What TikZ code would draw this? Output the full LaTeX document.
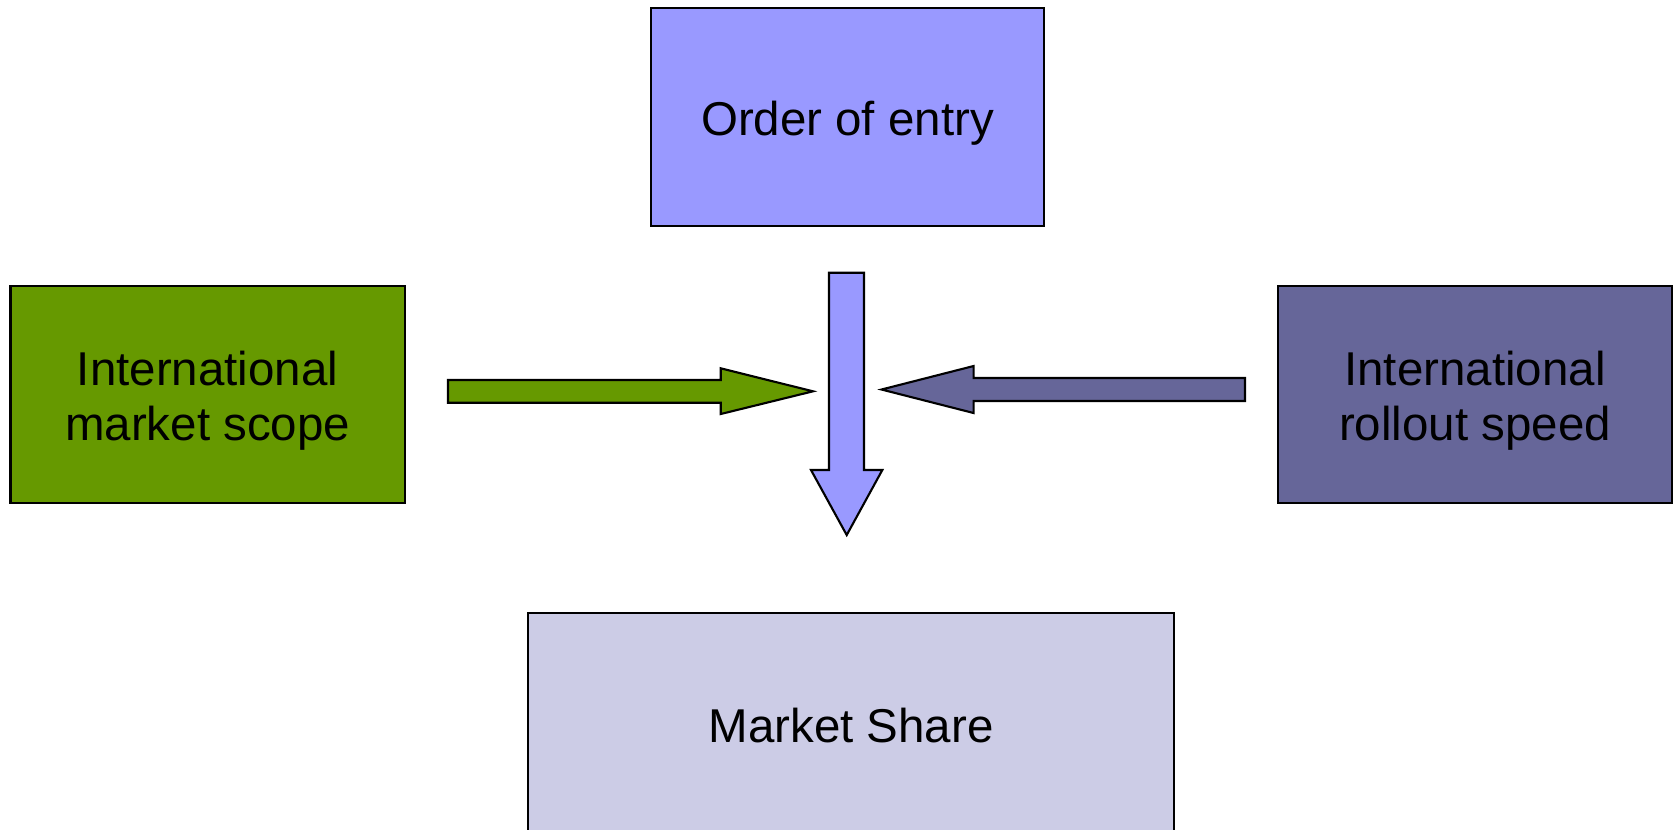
\documentclass[tikz,border=0pt]{standalone}
\usepackage{fontspec}
\setmainfont{Liberation Sans}
\definecolor{entryblue}{HTML}{9999FF}
\definecolor{scopegreen}{HTML}{669900}
\definecolor{speedslate}{HTML}{666699}
\definecolor{sharelilac}{HTML}{CCCCE6}
\newcommand{\droptext}[1]{\raisebox{-2.1pt}[\height][\depth]{\begin{tabular}{@{}c@{}}#1\end{tabular}}}

\begin{document}
\begin{tikzpicture}[x=0.01cm,y=-0.01cm,
		factorbox/.style={draw=black,line width=0.6pt,align=center,inner sep=0pt,
			font=\fontsize{13.5}{15.8}\selectfont},
		blockarrow/.style={draw=black,line width=0.6pt,line join=miter}]
		\useasboundingbox (0,0) rectangle (1674,829);
		\clip (0,0) rectangle (1674,829);
		\node [factorbox,fill=entryblue,minimum width=3.93cm,minimum height=2.175cm] (entry) at (847.5,117) {\droptext{Order of entry}};
		\node [factorbox,fill=scopegreen,minimum width=3.94cm,minimum height=2.17cm] (scope) at (207.6,394.5) {\droptext{International\\market scope}};
		\node [factorbox,fill=speedslate,minimum width=3.94cm,minimum height=2.17cm] (speed) at (1475,394.5) {\droptext{International\\rollout speed}};
		\node [factorbox,fill=sharelilac,minimum width=6.46cm,minimum height=2.24cm] (share) at (851,725) {Market Share};
		\draw [blockarrow,fill=scopegreen] (448,380) -- (720.7,380) -- (720.7,368.3) -- (813,391.3) -- (720.7,414) -- (720.7,402.7) -- (448,402.7) -- cycle;
		\draw [blockarrow,fill=speedslate] (1245,378) -- (973.6,378) -- (973.6,366) -- (881.5,389.5) -- (973.6,413) -- (973.6,401) -- (1245,401) -- cycle;
		\draw [blockarrow,fill=entryblue] (829,272.7) -- (864,272.7) -- (864,470) -- (882.3,470) -- (846.7,535) -- (811,470) -- (829,470) -- cycle;
	\end{tikzpicture}
\end{document}
